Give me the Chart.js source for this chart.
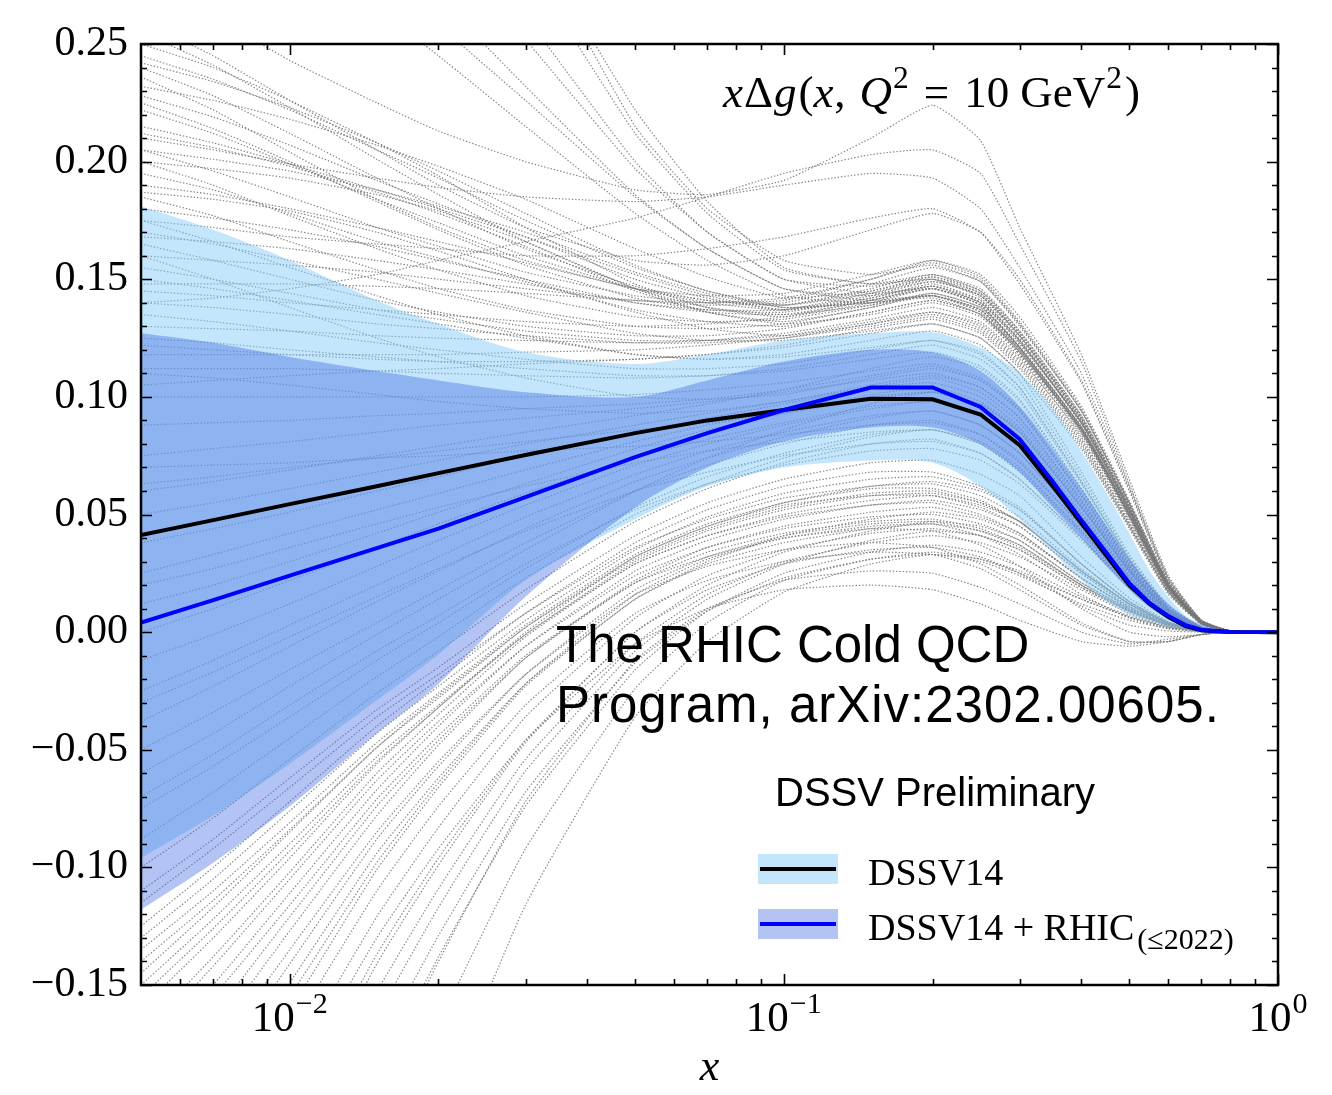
<!DOCTYPE html>
<html>
<head>
<meta charset="utf-8">
<script src="https://cdn.jsdelivr.net/npm/chart.js@4.4.0/dist/chart.umd.min.js"></script>
<style>
  html, body { margin: 0; padding: 0; background: #fff; }
  canvas { display: block; }
</style>
</head>
<body>
<canvas id="gluon" width="1332" height="1095"></canvas>
<script>
// x grid of the central fits and error bands
var xGrid = [0.005, 0.007, 0.01, 0.015, 0.02, 0.03, 0.05, 0.07, 0.1, 0.15, 0.2, 0.25,
             0.3, 0.35, 0.4, 0.45, 0.5, 0.55, 0.6, 0.65, 0.7, 0.8, 0.9, 1.0];

var dssv14Central = [0.0413, 0.0476, 0.0544, 0.062, 0.0676, 0.0753, 0.0846, 0.090, 0.0944, 0.0992, 0.099, 0.0925,
                     0.0795, 0.062, 0.0463, 0.0323, 0.020, 0.012, 0.0064, 0.0026, 0.0008, 0.0001, 0, 0];
var dssv14Upper = [0.181, 0.171, 0.158, 0.141, 0.131, 0.119, 0.114, 0.118, 0.124, 0.127, 0.1275, 0.121,
                   0.110, 0.095, 0.077, 0.059, 0.042, 0.026, 0.015, 0.007, 0.0026, 0.0004, 0, 0];
var dssv14Lower = [-0.096, -0.078, -0.056, -0.029, -0.0095, 0.022, 0.048, 0.062, 0.070, 0.073, 0.072, 0.062,
                   0.048, 0.034, 0.022, 0.013, 0.0075, 0.0045, 0.0025, 0.001, 0.0003, 0, 0, 0];

var rhicCentral = [0.004, 0.0136, 0.024, 0.0357, 0.044, 0.0574, 0.0744, 0.0846, 0.0944, 0.104, 0.104, 0.0957,
                   0.082, 0.064, 0.0476, 0.0336, 0.0208, 0.0123, 0.0068, 0.003, 0.0009, 0.0001, 0, 0];
var rhicUpper = [0.127, 0.123, 0.117, 0.111, 0.107, 0.102, 0.100, 0.107, 0.115, 0.120, 0.119, 0.111,
                 0.096, 0.078, 0.061, 0.045, 0.031, 0.020, 0.012, 0.0065, 0.0035, 0.0005, 0, 0];
var rhicLower = [-0.118, -0.098, -0.074, -0.043, -0.022, 0.015, 0.053, 0.070, 0.081, 0.087, 0.087, 0.080,
                 0.068, 0.053, 0.040, 0.028, 0.018, 0.0105, 0.0055, 0.0025, 0.0008, 0, 0, 0];

// Monte Carlo replicas of DSSV14, on a coarser grid
var repGrid = [0.005, 0.007, 0.01, 0.015, 0.02, 0.03, 0.05, 0.07, 0.1, 0.15, 0.2, 0.25, 0.3, 0.4, 0.5, 0.6, 0.7, 0.8, 1.0];

var replicasHigh = [
  [0.245, 0.235, 0.222, 0.205, 0.193, 0.175, 0.155, 0.145, 0.138, 0.140, 0.142, 0.135, 0.118, 0.085, 0.050, 0.019, 0.004, 0.0005, 0],
  [0.232, 0.226, 0.218, 0.207, 0.198, 0.184, 0.163, 0.151, 0.142, 0.145, 0.150, 0.142, 0.124, 0.089, 0.052, 0.020, 0.0043, 0.0005, 0],
  [0.215, 0.208, 0.199, 0.188, 0.180, 0.168, 0.152, 0.143, 0.137, 0.141, 0.146, 0.139, 0.121, 0.087, 0.051, 0.019, 0.0042, 0.0005, 0],
  [0.200, 0.197, 0.193, 0.186, 0.179, 0.166, 0.146, 0.136, 0.131, 0.135, 0.140, 0.134, 0.118, 0.085, 0.050, 0.019, 0.004, 0.0005, 0],
  [0.195, 0.188, 0.178, 0.166, 0.159, 0.149, 0.137, 0.132, 0.130, 0.136, 0.141, 0.135, 0.119, 0.086, 0.050, 0.019, 0.0042, 0.0005, 0],
  [0.225, 0.214, 0.200, 0.183, 0.171, 0.156, 0.142, 0.137, 0.136, 0.142, 0.148, 0.141, 0.124, 0.089, 0.052, 0.020, 0.0043, 0.0005, 0],
  [0.250, 0.240, 0.226, 0.208, 0.194, 0.172, 0.148, 0.138, 0.134, 0.140, 0.146, 0.139, 0.121, 0.087, 0.051, 0.019, 0.0042, 0.0005, 0],
  [0.187, 0.184, 0.179, 0.170, 0.162, 0.150, 0.136, 0.129, 0.126, 0.131, 0.136, 0.131, 0.116, 0.084, 0.049, 0.019, 0.004, 0.0005, 0],
  [0.205, 0.196, 0.185, 0.172, 0.164, 0.153, 0.143, 0.140, 0.141, 0.150, 0.157, 0.150, 0.131, 0.094, 0.055, 0.021, 0.0046, 0.0005, 0],
  [0.240, 0.228, 0.212, 0.193, 0.180, 0.163, 0.147, 0.141, 0.139, 0.146, 0.152, 0.145, 0.127, 0.091, 0.053, 0.020, 0.0044, 0.0005, 0],
  [0.228, 0.219, 0.207, 0.192, 0.182, 0.168, 0.150, 0.142, 0.137, 0.142, 0.147, 0.140, 0.123, 0.089, 0.052, 0.020, 0.0043, 0.0005, 0],
  [0.212, 0.206, 0.198, 0.187, 0.178, 0.164, 0.145, 0.136, 0.132, 0.138, 0.144, 0.138, 0.121, 0.087, 0.051, 0.019, 0.0042, 0.0005, 0],
  [0.190, 0.186, 0.180, 0.172, 0.166, 0.157, 0.146, 0.141, 0.139, 0.145, 0.151, 0.145, 0.128, 0.092, 0.054, 0.020, 0.0045, 0.0005, 0],
  [0.180, 0.176, 0.171, 0.164, 0.158, 0.150, 0.140, 0.136, 0.135, 0.141, 0.147, 0.141, 0.124, 0.089, 0.052, 0.020, 0.0043, 0.0005, 0],
  [0.236, 0.222, 0.204, 0.184, 0.172, 0.158, 0.146, 0.143, 0.144, 0.152, 0.158, 0.151, 0.132, 0.095, 0.055, 0.021, 0.0046, 0.0005, 0],
  [0.255, 0.241, 0.223, 0.201, 0.186, 0.166, 0.146, 0.138, 0.135, 0.139, 0.143, 0.136, 0.119, 0.086, 0.050, 0.019, 0.0042, 0.0005, 0],
  [0.168, 0.166, 0.163, 0.158, 0.154, 0.148, 0.140, 0.137, 0.137, 0.144, 0.150, 0.144, 0.127, 0.091, 0.053, 0.020, 0.0044, 0.0005, 0],
  [0.160, 0.158, 0.156, 0.153, 0.150, 0.146, 0.141, 0.139, 0.140, 0.148, 0.155, 0.149, 0.131, 0.094, 0.055, 0.021, 0.0046, 0.0005, 0],
  [0.148, 0.148, 0.148, 0.147, 0.146, 0.144, 0.141, 0.140, 0.142, 0.150, 0.158, 0.152, 0.134, 0.096, 0.056, 0.021, 0.0047, 0.0005, 0],
  [0.222, 0.212, 0.199, 0.184, 0.174, 0.160, 0.146, 0.140, 0.137, 0.143, 0.149, 0.143, 0.126, 0.090, 0.053, 0.020, 0.0044, 0.0005, 0],
  [0.205, 0.201, 0.196, 0.188, 0.181, 0.170, 0.153, 0.144, 0.138, 0.140, 0.143, 0.137, 0.120, 0.086, 0.050, 0.019, 0.0042, 0.0005, 0],
  [0.242, 0.234, 0.223, 0.208, 0.196, 0.178, 0.156, 0.145, 0.139, 0.144, 0.149, 0.143, 0.126, 0.090, 0.053, 0.020, 0.0044, 0.0005, 0],
  [0.140, 0.138, 0.135, 0.131, 0.129, 0.126, 0.123, 0.123, 0.125, 0.130, 0.134, 0.128, 0.113, 0.080, 0.045, 0.017, 0.0035, 0.0004, 0],
  [0.155, 0.150, 0.144, 0.137, 0.133, 0.128, 0.124, 0.124, 0.126, 0.132, 0.136, 0.130, 0.115, 0.082, 0.046, 0.017, 0.0036, 0.0004, 0],
  [0.130, 0.129, 0.128, 0.126, 0.125, 0.124, 0.123, 0.124, 0.127, 0.133, 0.138, 0.132, 0.117, 0.083, 0.047, 0.018, 0.0037, 0.0004, 0],
  [0.118, 0.118, 0.118, 0.118, 0.118, 0.119, 0.120, 0.122, 0.125, 0.131, 0.135, 0.129, 0.114, 0.081, 0.046, 0.017, 0.0036, 0.0004, 0],
  [0.165, 0.158, 0.150, 0.141, 0.136, 0.130, 0.126, 0.126, 0.129, 0.136, 0.141, 0.135, 0.120, 0.085, 0.048, 0.018, 0.0038, 0.0004, 0],
  [0.185, 0.177, 0.166, 0.154, 0.146, 0.137, 0.130, 0.129, 0.131, 0.138, 0.143, 0.137, 0.121, 0.086, 0.049, 0.018, 0.0038, 0.0004, 0],
  [0.145, 0.143, 0.140, 0.137, 0.135, 0.132, 0.130, 0.131, 0.134, 0.141, 0.146, 0.140, 0.124, 0.088, 0.050, 0.019, 0.004, 0.0005, 0],
  [0.200, 0.190, 0.177, 0.163, 0.154, 0.143, 0.134, 0.132, 0.133, 0.139, 0.144, 0.138, 0.122, 0.087, 0.049, 0.018, 0.0039, 0.0004, 0],
  [0.105, 0.107, 0.109, 0.111, 0.112, 0.114, 0.116, 0.118, 0.121, 0.127, 0.131, 0.125, 0.110, 0.078, 0.044, 0.016, 0.0034, 0.0004, 0],
  [0.122, 0.120, 0.118, 0.116, 0.115, 0.115, 0.116, 0.118, 0.122, 0.129, 0.133, 0.127, 0.112, 0.079, 0.045, 0.017, 0.0035, 0.0004, 0]
];

// steep ones that leave the frame at small x
var replicasSteep = [
  [0.33, 0.31, 0.29, 0.265, 0.245, 0.215, 0.178, 0.158, 0.143, 0.140, 0.143, 0.137, 0.120, 0.086, 0.050, 0.019, 0.0042, 0.0005, 0],
  [0.36, 0.335, 0.31, 0.28, 0.258, 0.226, 0.185, 0.163, 0.146, 0.141, 0.143, 0.136, 0.119, 0.086, 0.050, 0.019, 0.0042, 0.0005, 0],
  [0.40, 0.37, 0.34, 0.30, 0.27, 0.232, 0.186, 0.163, 0.146, 0.143, 0.147, 0.140, 0.123, 0.089, 0.052, 0.020, 0.0043, 0.0005, 0],
  [0.45, 0.415, 0.375, 0.33, 0.297, 0.252, 0.197, 0.170, 0.150, 0.144, 0.146, 0.139, 0.121, 0.087, 0.051, 0.019, 0.0042, 0.0005, 0],
  [0.50, 0.46, 0.41, 0.355, 0.315, 0.262, 0.200, 0.170, 0.150, 0.147, 0.151, 0.144, 0.126, 0.091, 0.053, 0.020, 0.0044, 0.0005, 0],
  [0.55, 0.505, 0.45, 0.39, 0.345, 0.285, 0.212, 0.178, 0.154, 0.148, 0.150, 0.143, 0.125, 0.090, 0.053, 0.020, 0.0044, 0.0005, 0],
  [0.60, 0.55, 0.49, 0.42, 0.37, 0.30, 0.222, 0.183, 0.155, 0.148, 0.152, 0.146, 0.128, 0.092, 0.054, 0.020, 0.0045, 0.0005, 0],
  [0.70, 0.63, 0.55, 0.45, 0.38, 0.30, 0.215, 0.180, 0.158, 0.152, 0.156, 0.149, 0.130, 0.094, 0.055, 0.021, 0.0046, 0.0005, 0]
];

// humps above the band around x ~ 0.2
var replicasHump = [
  [0.280, 0.262, 0.243, 0.225, 0.213, 0.200, 0.188, 0.186, 0.192, 0.210, 0.224, 0.209, 0.172, 0.118, 0.065, 0.024, 0.005, 0.0006, 0],
  [0.140, 0.142, 0.146, 0.152, 0.158, 0.166, 0.176, 0.185, 0.195, 0.203, 0.205, 0.195, 0.165, 0.115, 0.063, 0.023, 0.005, 0.0006, 0],
  [0.21, 0.205, 0.199, 0.193, 0.189, 0.185, 0.183, 0.185, 0.190, 0.195, 0.193, 0.180, 0.155, 0.110, 0.062, 0.023, 0.005, 0.0006, 0],
  [0.175, 0.172, 0.168, 0.165, 0.163, 0.160, 0.160, 0.163, 0.168, 0.176, 0.180, 0.170, 0.148, 0.106, 0.060, 0.022, 0.005, 0.0006, 0],
  [0.26, 0.245, 0.226, 0.205, 0.190, 0.172, 0.158, 0.156, 0.160, 0.171, 0.178, 0.170, 0.150, 0.107, 0.061, 0.022, 0.005, 0.0006, 0]
];

// replicas running inside the bands
var replicasMid = [
  [0.170, 0.165, 0.158, 0.150, 0.144, 0.136, 0.127, 0.124, 0.124, 0.128, 0.131, 0.125, 0.110, 0.068, 0.033, 0.011, 0.0022, 0.0002, 0],
  [0.150, 0.146, 0.141, 0.135, 0.131, 0.125, 0.118, 0.116, 0.117, 0.121, 0.124, 0.118, 0.104, 0.064, 0.031, 0.010, 0.0021, 0.0002, 0],
  [0.125, 0.123, 0.120, 0.117, 0.115, 0.112, 0.109, 0.109, 0.111, 0.116, 0.119, 0.113, 0.099, 0.061, 0.030, 0.010, 0.002, 0.0002, 0],
  [0.100, 0.100, 0.100, 0.100, 0.100, 0.100, 0.101, 0.103, 0.106, 0.111, 0.114, 0.108, 0.095, 0.059, 0.029, 0.0095, 0.0019, 0.0002, 0],
  [0.075, 0.078, 0.081, 0.085, 0.088, 0.091, 0.095, 0.098, 0.102, 0.107, 0.110, 0.104, 0.091, 0.056, 0.027, 0.009, 0.0018, 0.0002, 0],
  [0.050, 0.055, 0.061, 0.068, 0.073, 0.080, 0.088, 0.093, 0.098, 0.104, 0.106, 0.100, 0.087, 0.054, 0.026, 0.0087, 0.0017, 0.0002, 0],
  [0.025, 0.033, 0.042, 0.052, 0.059, 0.069, 0.081, 0.088, 0.094, 0.100, 0.102, 0.096, 0.083, 0.051, 0.025, 0.0083, 0.0017, 0.0002, 0],
  [0.000, 0.010, 0.022, 0.036, 0.046, 0.059, 0.074, 0.082, 0.089, 0.096, 0.098, 0.092, 0.079, 0.049, 0.024, 0.008, 0.0016, 0.0002, 0],
  [-0.025, -0.012, 0.003, 0.020, 0.032, 0.049, 0.067, 0.077, 0.085, 0.092, 0.094, 0.088, 0.076, 0.047, 0.023, 0.0076, 0.0015, 0.0002, 0],
  [-0.050, -0.034, -0.016, 0.004, 0.018, 0.038, 0.060, 0.071, 0.080, 0.088, 0.090, 0.084, 0.072, 0.045, 0.022, 0.0072, 0.0014, 0.0001, 0],
  [-0.075, -0.057, -0.036, -0.012, 0.004, 0.027, 0.053, 0.066, 0.076, 0.084, 0.086, 0.080, 0.068, 0.042, 0.020, 0.0068, 0.0014, 0.0001, 0],
  [-0.100, -0.079, -0.054, -0.026, -0.008, 0.018, 0.047, 0.061, 0.072, 0.080, 0.082, 0.076, 0.065, 0.040, 0.020, 0.0065, 0.0013, 0.0001, 0],
  [0.160, 0.150, 0.138, 0.125, 0.117, 0.108, 0.100, 0.099, 0.101, 0.108, 0.112, 0.107, 0.094, 0.058, 0.028, 0.0094, 0.0019, 0.0002, 0],
  [0.110, 0.108, 0.105, 0.101, 0.098, 0.095, 0.093, 0.094, 0.098, 0.105, 0.109, 0.104, 0.091, 0.056, 0.027, 0.009, 0.0018, 0.0002, 0],
  [0.060, 0.064, 0.069, 0.075, 0.079, 0.085, 0.092, 0.097, 0.103, 0.112, 0.117, 0.112, 0.098, 0.061, 0.029, 0.0098, 0.002, 0.0002, 0],
  [-0.060, -0.043, -0.023, -0.001, 0.014, 0.035, 0.060, 0.074, 0.086, 0.097, 0.102, 0.097, 0.085, 0.053, 0.026, 0.0085, 0.0017, 0.0002, 0],
  [0.175, 0.166, 0.155, 0.143, 0.135, 0.126, 0.118, 0.116, 0.118, 0.124, 0.128, 0.122, 0.107, 0.066, 0.032, 0.011, 0.0021, 0.0002, 0],
  [0.135, 0.132, 0.128, 0.123, 0.120, 0.116, 0.112, 0.112, 0.114, 0.120, 0.124, 0.119, 0.104, 0.064, 0.031, 0.010, 0.0021, 0.0002, 0],
  [0.088, 0.089, 0.090, 0.092, 0.093, 0.095, 0.097, 0.099, 0.103, 0.109, 0.113, 0.107, 0.094, 0.058, 0.028, 0.0094, 0.0019, 0.0002, 0],
  [0.038, 0.044, 0.051, 0.060, 0.066, 0.075, 0.085, 0.091, 0.097, 0.104, 0.108, 0.102, 0.089, 0.055, 0.027, 0.0089, 0.0018, 0.0002, 0],
  [-0.012, -0.001, 0.012, 0.028, 0.039, 0.054, 0.071, 0.080, 0.088, 0.095, 0.098, 0.092, 0.080, 0.050, 0.024, 0.008, 0.0016, 0.0002, 0],
  [-0.038, -0.023, -0.006, 0.013, 0.026, 0.044, 0.064, 0.074, 0.083, 0.091, 0.094, 0.088, 0.076, 0.047, 0.023, 0.0076, 0.0015, 0.0002, 0],
  [-0.088, -0.068, -0.045, -0.019, -0.002, 0.023, 0.050, 0.063, 0.074, 0.083, 0.086, 0.080, 0.069, 0.043, 0.021, 0.0069, 0.0014, 0.0001, 0],
  [0.112, 0.112, 0.112, 0.111, 0.110, 0.109, 0.108, 0.109, 0.112, 0.118, 0.122, 0.116, 0.102, 0.063, 0.031, 0.010, 0.002, 0.0002, 0],
  [0.063, 0.066, 0.070, 0.074, 0.077, 0.081, 0.086, 0.089, 0.093, 0.099, 0.102, 0.097, 0.085, 0.053, 0.026, 0.0085, 0.0017, 0.0002, 0],
  [0.012, 0.020, 0.030, 0.042, 0.051, 0.063, 0.078, 0.086, 0.093, 0.101, 0.104, 0.098, 0.086, 0.053, 0.026, 0.0086, 0.0017, 0.0002, 0],
  [0.020, 0.027, 0.036, 0.046, 0.053, 0.062, 0.072, 0.077, 0.081, 0.085, 0.086, 0.081, 0.070, 0.043, 0.021, 0.0069, 0.0014, 0.0001, 0],
  [-0.030, -0.017, -0.002, 0.015, 0.027, 0.043, 0.060, 0.068, 0.075, 0.080, 0.081, 0.076, 0.065, 0.040, 0.019, 0.0065, 0.0013, 0.0001, 0],
  [0.070, 0.071, 0.072, 0.074, 0.075, 0.077, 0.079, 0.081, 0.084, 0.088, 0.089, 0.084, 0.073, 0.045, 0.022, 0.0073, 0.0015, 0.0001, 0],
  [-0.070, -0.052, -0.031, -0.008, 0.007, 0.029, 0.052, 0.063, 0.071, 0.077, 0.078, 0.073, 0.063, 0.039, 0.019, 0.0063, 0.0013, 0.0001, 0]
];

// strongly negative at small x, low in the mid-x region
var replicasLow = [
  [-0.125, -0.100, -0.072, -0.040, -0.020, 0.008, 0.038, 0.052, 0.062, 0.068, 0.068, 0.062, 0.053, 0.029, 0.013, 0.0042, 0.0008, 0.0001, 0],
  [-0.135, -0.110, -0.081, -0.047, -0.026, 0.003, 0.033, 0.046, 0.055, 0.061, 0.061, 0.056, 0.047, 0.026, 0.012, 0.0038, 0.0007, 0, 0],
  [-0.150, -0.122, -0.090, -0.053, -0.031, -0.001, 0.029, 0.041, 0.049, 0.054, 0.055, 0.050, 0.042, 0.023, 0.0105, 0.0034, 0.0006, 0, 0],
  [-0.175, -0.142, -0.105, -0.063, -0.038, -0.006, 0.024, 0.036, 0.044, 0.049, 0.050, 0.046, 0.039, 0.021, 0.0098, 0.0031, 0.0006, 0, 0],
  [-0.200, -0.163, -0.121, -0.074, -0.046, -0.011, 0.021, 0.034, 0.042, 0.047, 0.048, 0.044, 0.037, 0.020, 0.0093, 0.003, 0.0006, 0, 0],
  [-0.240, -0.197, -0.149, -0.094, -0.062, -0.022, 0.014, 0.029, 0.038, 0.044, 0.046, 0.043, 0.037, 0.020, 0.0093, 0.003, 0.0006, 0, 0],
  [-0.290, -0.240, -0.184, -0.121, -0.083, -0.036, 0.006, 0.024, 0.035, 0.042, 0.044, 0.041, 0.035, 0.019, 0.0088, 0.0028, 0.0005, 0, 0],
  [-0.350, -0.292, -0.227, -0.153, -0.109, -0.054, -0.005, 0.016, 0.030, 0.038, 0.041, 0.038, 0.032, 0.018, 0.008, 0.0026, 0.0005, 0, 0],
  [-0.420, -0.352, -0.276, -0.190, -0.138, -0.074, -0.016, 0.009, 0.025, 0.034, 0.037, 0.034, 0.028, 0.015, 0.007, 0.0022, 0.0004, 0, 0],
  [-0.500, -0.420, -0.330, -0.228, -0.167, -0.092, -0.024, 0.004, 0.022, 0.031, 0.034, 0.031, 0.025, 0.014, 0.0063, 0.002, 0.0004, 0, 0],
  [-0.300, -0.250, -0.194, -0.130, -0.092, -0.046, -0.005, 0.010, 0.018, 0.020, 0.018, 0.012, 0.005, -0.004, -0.006, -0.004, -0.001, 0, 0],
  [-0.220, -0.180, -0.135, -0.085, -0.055, -0.018, 0.016, 0.028, 0.035, 0.038, 0.036, 0.029, 0.020, 0.004, -0.004, -0.004, -0.001, 0, 0],
  [-0.450, -0.375, -0.290, -0.195, -0.140, -0.072, -0.012, 0.010, 0.022, 0.026, 0.025, 0.019, 0.012, 0.000, -0.005, -0.003, -0.001, 0, 0],
  [-0.110, -0.088, -0.062, -0.033, -0.015, 0.012, 0.041, 0.055, 0.065, 0.072, 0.073, 0.067, 0.058, 0.032, 0.0145, 0.0046, 0.0009, 0.0001, 0],
  [-0.160, -0.130, -0.096, -0.056, -0.032, 0.000, 0.032, 0.045, 0.055, 0.062, 0.064, 0.060, 0.052, 0.029, 0.013, 0.0042, 0.0008, 0.0001, 0],
  [-0.130, -0.105, -0.076, -0.043, -0.023, 0.005, 0.035, 0.049, 0.059, 0.065, 0.066, 0.061, 0.052, 0.029, 0.013, 0.0042, 0.0008, 0.0001, 0],
  [-0.145, -0.117, -0.085, -0.049, -0.027, 0.002, 0.031, 0.044, 0.053, 0.059, 0.060, 0.055, 0.047, 0.026, 0.012, 0.0038, 0.0007, 0, 0],
  [-0.185, -0.150, -0.111, -0.067, -0.040, -0.006, 0.026, 0.039, 0.048, 0.054, 0.056, 0.052, 0.045, 0.025, 0.011, 0.0036, 0.0007, 0, 0],
  [-0.210, -0.171, -0.127, -0.078, -0.048, -0.011, 0.022, 0.036, 0.045, 0.051, 0.053, 0.049, 0.042, 0.023, 0.0105, 0.0034, 0.0006, 0, 0],
  [-0.260, -0.213, -0.161, -0.101, -0.066, -0.023, 0.014, 0.030, 0.041, 0.048, 0.051, 0.048, 0.041, 0.023, 0.010, 0.0033, 0.0006, 0, 0],
  [-0.320, -0.265, -0.205, -0.137, -0.096, -0.046, 0.000, 0.020, 0.034, 0.043, 0.047, 0.045, 0.039, 0.021, 0.0098, 0.0031, 0.0006, 0, 0],
  [-0.380, -0.316, -0.245, -0.164, -0.117, -0.059, -0.008, 0.014, 0.029, 0.039, 0.043, 0.041, 0.035, 0.019, 0.0088, 0.0028, 0.0005, 0, 0],
  [-0.600, -0.505, -0.398, -0.277, -0.205, -0.116, -0.036, -0.004, 0.017, 0.029, 0.033, 0.031, 0.026, 0.014, 0.0065, 0.0021, 0.0004, 0, 0],
  [-0.270, -0.223, -0.170, -0.110, -0.074, -0.031, 0.008, 0.022, 0.030, 0.034, 0.033, 0.027, 0.018, 0.003, -0.004, -0.004, -0.001, 0, 0],
  [-0.190, -0.155, -0.116, -0.071, -0.044, -0.010, 0.021, 0.032, 0.040, 0.044, 0.043, 0.037, 0.028, 0.010, 0.000, -0.002, -0.001, 0, 0],
  [-0.115, -0.092, -0.066, -0.036, -0.018, 0.008, 0.036, 0.048, 0.057, 0.062, 0.063, 0.058, 0.049, 0.027, 0.012, 0.0039, 0.0007, 0, 0],
  [-0.170, -0.138, -0.102, -0.060, -0.035, -0.002, 0.029, 0.041, 0.050, 0.056, 0.058, 0.054, 0.047, 0.026, 0.012, 0.0038, 0.0007, 0, 0],
  [-0.140, -0.114, -0.084, -0.049, -0.028, 0.002, 0.032, 0.045, 0.054, 0.058, 0.058, 0.053, 0.045, 0.025, 0.011, 0.0036, 0.0007, 0, 0],
  [-0.230, -0.188, -0.141, -0.088, -0.057, -0.018, 0.018, 0.032, 0.041, 0.046, 0.047, 0.043, 0.036, 0.020, 0.009, 0.0029, 0.0005, 0, 0],
  [-0.400, -0.335, -0.262, -0.178, -0.129, -0.068, -0.013, 0.009, 0.023, 0.031, 0.033, 0.030, 0.024, 0.012, 0.005, 0.0015, 0.0003, 0, 0],
  [-0.330, -0.275, -0.212, -0.141, -0.099, -0.047, 0.000, 0.018, 0.029, 0.035, 0.036, 0.032, 0.025, 0.011, 0.003, 0.0005, 0, 0, 0],
  [-0.155, -0.126, -0.093, -0.055, -0.032, -0.001, 0.030, 0.043, 0.052, 0.058, 0.059, 0.055, 0.047, 0.026, 0.012, 0.0038, 0.0007, 0, 0],
  [-0.250, -0.205, -0.155, -0.098, -0.064, -0.022, 0.016, 0.031, 0.040, 0.045, 0.046, 0.041, 0.033, 0.016, 0.006, 0.0015, 0.0002, 0, 0]
];

// axis ticks
var yMajorTicks = [-0.15, -0.10, -0.05, 0.00, 0.05, 0.10, 0.15, 0.20, 0.25];
var xMajorTicks = [0.01, 0.1, 1];
var xMinorTicks = [0.006, 0.007, 0.008, 0.009, 0.02, 0.03, 0.04, 0.05, 0.06, 0.07, 0.08, 0.09,
                   0.2, 0.3, 0.4, 0.5, 0.6, 0.7, 0.8, 0.9];
var xTickExponents = ['\u22122', '\u22121', '0'];

var legendLabels = ['DSSV14', 'DSSV14 + RHIC'];
var legendSubscript = '(\u22642022)';

var SERIF = '"Liberation Serif", "DejaVu Serif", serif';
var SANS = '"Liberation Sans", Arial, sans-serif';

function pts(grid, values) {
  return values.map(function (v, i) { return { x: grid[i], y: v }; });
}

var datasets = [];

[].concat(replicasHigh, replicasSteep, replicasHump, replicasMid, replicasLow).forEach(function (r) {
  datasets.push({
    data: pts(repGrid, r),
    borderColor: 'rgba(120,120,120,0.9)',
    borderWidth: 1.2,
    borderDash: [1.4, 1.9],
    tension: 0.15,
    pointRadius: 0,
    fill: false,
    order: 10
  });
});

// error bands: upper curve filled down to the following dataset
datasets.push({
  data: pts(xGrid, dssv14Upper), borderWidth: 0, pointRadius: 0, tension: 0.3,
  backgroundColor: 'rgba(135,206,250,0.5)', fill: '+1', order: 6
});
datasets.push({ data: pts(xGrid, dssv14Lower), borderWidth: 0, pointRadius: 0, tension: 0.3, fill: false, order: 6 });
datasets.push({
  data: pts(xGrid, rhicUpper), borderWidth: 0, pointRadius: 0, tension: 0.3,
  backgroundColor: 'rgba(65,105,225,0.4)', fill: '+1', order: 5
});
datasets.push({ data: pts(xGrid, rhicLower), borderWidth: 0, pointRadius: 0, tension: 0.3, fill: false, order: 5 });

datasets.push({
  data: pts(xGrid, dssv14Central), borderColor: '#000000', borderWidth: 4,
  pointRadius: 0, fill: false, order: 2
});
datasets.push({
  data: pts(xGrid, rhicCentral), borderColor: '#0000ff', borderWidth: 4,
  pointRadius: 0, fill: false, order: 1
});

// draws a run of plain / italic / super- / subscript pieces, returns the end x
function drawRuns(ctx, runs, x, y, size, dryRun) {
  runs.forEach(function (r) {
    var s = r.sup ? size * 0.7 : (r.sub ? size * 0.79 : size);
    ctx.font = (r.it ? 'italic ' : '') + s + 'px ' + SERIF;
    var dy = r.sup ? -size * 0.42 : (r.sub ? size * 0.24 : 0);
    if (!dryRun) ctx.fillText(r.t, x, y + dy);
    x += ctx.measureText(r.t).width + (r.gap || 0);
  });
  return x;
}

var decorations = {
  id: 'decorations',
  afterDraw: function (chart) {
    var ctx = chart.ctx;
    var a = chart.chartArea;
    var xs = chart.scales.x, ys = chart.scales.y;
    ctx.save();
    ctx.strokeStyle = '#000';
    ctx.fillStyle = '#000';

    // inward ticks on all four sides
    ctx.lineWidth = 1.6;
    ctx.beginPath();
    for (var v = -15; v <= 25; v++) {
      var py = Math.round(ys.getPixelForValue(v / 100)) + 0.5;
      var len = (v % 5 === 0) ? 11 : 6;
      ctx.moveTo(a.left, py); ctx.lineTo(a.left + len, py);
      ctx.moveTo(a.right, py); ctx.lineTo(a.right - len, py);
    }
    xMinorTicks.forEach(function (t) {
      var px = Math.round(xs.getPixelForValue(t)) + 0.5;
      ctx.moveTo(px, a.bottom); ctx.lineTo(px, a.bottom - 6);
      ctx.moveTo(px, a.top); ctx.lineTo(px, a.top + 6);
    });
    xMajorTicks.forEach(function (t) {
      var px = Math.round(xs.getPixelForValue(t)) + 0.5;
      ctx.moveTo(px, a.bottom); ctx.lineTo(px, a.bottom - 11);
      ctx.moveTo(px, a.top); ctx.lineTo(px, a.top + 11);
    });
    ctx.stroke();

    // frame
    ctx.lineWidth = 2.5;
    ctx.strokeRect(a.left, a.top, a.right - a.left, a.bottom - a.top);

    // x tick labels 10^n, centred on their ticks
    ctx.textBaseline = 'alphabetic';
    ctx.textAlign = 'left';
    xMajorTicks.forEach(function (t, i) {
      var runs = [{ t: '10', gap: 1 }, { t: xTickExponents[i], sup: true }];
      var w = drawRuns(ctx, runs, 0, 0, 43, true);
      drawRuns(ctx, runs, xs.getPixelForValue(t) - w / 2, 1031, 43);
    });

    // axis title
    ctx.font = 'italic 44px ' + SERIF;
    ctx.textAlign = 'center';
    ctx.fillText('x', (a.left + a.right) / 2, 1080);
    ctx.textAlign = 'left';

    // panel title
    drawRuns(ctx, [
      { t: 'x', it: true, gap: 1 }, { t: '\u0394', gap: 1 }, { t: 'g', it: true, gap: 2 }, { t: '(' },
      { t: 'x', it: true, gap: 1 }, { t: ',', gap: 14 }, { t: 'Q', it: true, gap: 1 }, { t: '2', sup: true, gap: 15 },
      { t: '=', gap: 15 }, { t: '10', gap: 11 }, { t: 'GeV', gap: 1 }, { t: '2', sup: true, gap: 3 }, { t: ')' }
    ], 723, 107, 45);

    // citation text
    ctx.font = '51px ' + SANS;
    ctx.fillText('The RHIC Cold QCD', 556, 662);
    ctx.letterSpacing = '1px';
    ctx.fillText('Program, arXiv:2302.00605.', 556, 722);
    ctx.letterSpacing = '0px';

    ctx.font = '40px ' + SANS;
    ctx.fillText('DSSV Preliminary', 775, 806);

    // legend
    var rows = [
      { y: 869, fill: 'rgba(135,206,250,0.5)', line: '#000000' },
      { y: 924, fill: 'rgba(65,105,225,0.4)', line: '#0000ff' }
    ];
    rows.forEach(function (r, i) {
      ctx.fillStyle = r.fill;
      ctx.fillRect(758, r.y - 15, 80, 30);
      ctx.strokeStyle = r.line;
      ctx.lineWidth = 4;
      ctx.beginPath();
      ctx.moveTo(760, r.y); ctx.lineTo(836, r.y);
      ctx.stroke();
      ctx.fillStyle = '#000';
      var runs = [{ t: legendLabels[i], gap: 3 }];
      if (i === 1) runs.push({ t: legendSubscript, sub: true });
      drawRuns(ctx, runs, 868, r.y + 16, 38);
    });
    ctx.restore();
  }
};

new Chart(document.getElementById('gluon'), {
  type: 'line',
  data: { datasets: datasets },
  options: {
    responsive: false,
    animation: false,
    devicePixelRatio: 1,
    layout: { padding: { top: 44, right: 54, left: 0, bottom: 0 } },
    plugins: {
      legend: { display: false },
      tooltip: { enabled: false },
      filler: { propagate: false }
    },
    scales: {
      x: {
        type: 'logarithmic',
        min: 0.005,
        max: 1,
        grid: { display: false, drawTicks: false },
        border: { display: false },
        ticks: { display: false },
        afterFit: function (s) { s.height = 110; }
      },
      y: {
        min: -0.15,
        max: 0.25,
        grid: { display: false, drawTicks: false },
        border: { display: false },
        afterBuildTicks: function (s) {
          s.ticks = yMajorTicks.map(function (v) { return { value: v }; });
        },
        ticks: {
          color: '#000',
          padding: 13,
          font: { family: SERIF, size: 42 },
          callback: function (v) {
            var s = Math.abs(v) < 1e-9 ? '0.00' : Math.abs(v).toFixed(2);
            return v < -1e-9 ? '\u2212' + s : s;
          }
        },
        afterFit: function (s) { s.width = 141; }
      }
    }
  },
  plugins: [decorations]
});
</script>
</body>
</html>
